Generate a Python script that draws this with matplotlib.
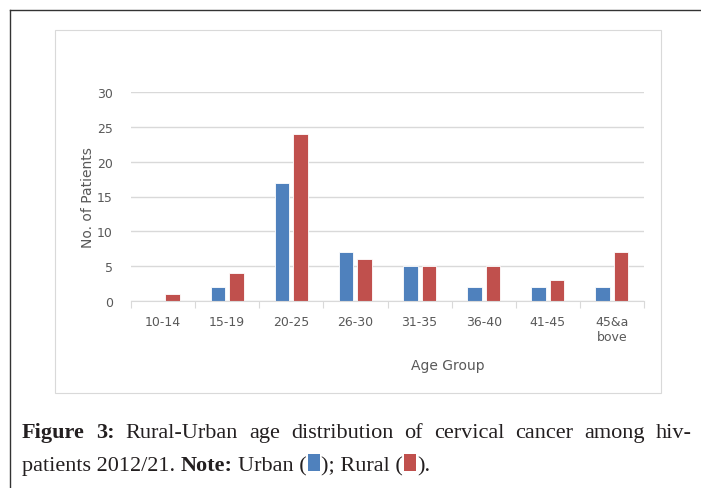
import numpy as np
import matplotlib.pyplot as plt
import matplotlib.patches as patches
import matplotlib.lines as lines

W, H = 701, 489

age_groups = ['10-14', '15-19', '20-25', '26-30', '31-35', '36-40', '41-45', '45&a\nbove']
urban = [0, 2, 17, 7, 5, 2, 2, 2]
rural = [1, 4, 24, 6, 5, 5, 3, 7]
y_ticks = [0, 5, 10, 15, 20, 25, 30]

BLUE = '#4f81bd'
RED = '#c0504d'
GREY_TXT = '#595959'
GRID = '#d9d9d9'

caption_1 = ['Figure', '3:', 'Rural-Urban', 'age', 'distribution', 'of', 'cervical',
             'cancer', 'among', 'hiv-']
caption_bold_1 = 2  # first two words bold


def fx(x):
    return x / W


def fy(y):
    return 1 - y / H


fig = plt.figure(figsize=(W / 100, H / 100), dpi=100)

# outer frame (only left and top visible)
fig.add_artist(lines.Line2D([fx(10), fx(10)], [fy(11), 0], transform=fig.transFigure, color='#333333', lw=1))
fig.add_artist(lines.Line2D([fx(10), 1], [fy(11), fy(11)], transform=fig.transFigure, color='#333333', lw=1))

# chart box, behind the axes
fig.add_artist(patches.Rectangle((fx(55), fy(394)), (661 - 55) / W, (394 - 31) / H,
                                 transform=fig.transFigure, fill=False, ec=GRID, lw=0.8, zorder=-1))

ax = fig.add_axes([fx(131), fy(302), (644 - 131) / W, (302 - 93) / H])
ax.set_facecolor('none')
x = np.arange(len(age_groups)) + 0.5
bw = 0.225
ax.bar(x - 0.144, urban, bw, color=BLUE, edgecolor='white', lw=0.6, zorder=2)
ax.bar(x + 0.144, rural, bw, color=RED, edgecolor='white', lw=0.6, zorder=2)

ax.set_xlim(0, len(age_groups))
ax.set_ylim(0, 30)
ax.set_yticks(y_ticks)
ax.yaxis.grid(True, color=GRID, lw=1)
ax.set_axisbelow(True)
for s in ['top', 'right', 'left']:
    ax.spines[s].set_visible(False)
ax.spines['bottom'].set_color(GRID)
ax.spines['bottom'].set_zorder(3)

ax.set_xticks(np.arange(len(age_groups) + 1))
ax.set_xticklabels([])
ax.tick_params(axis='x', which='major', length=5, color=GRID, direction='out')
ax.set_xticks(x, minor=True)
ax.set_xticklabels(age_groups, minor=True, fontsize=9, color=GREY_TXT, linespacing=1.25)
ax.tick_params(axis='x', which='minor', length=0, pad=10)
ax.tick_params(axis='y', length=0, pad=13, labelsize=9, labelcolor=GREY_TXT)

fig.text(fx(88), fy(198), 'No. of Patients', rotation=90, ha='center', va='center',
         fontsize=10, color=GREY_TXT)
fig.text(fx(448), fy(366), 'Age Group', ha='center', va='center', fontsize=10, color=GREY_TXT)

# caption
serif = 'Liberation Serif'
cap_size = 16
ink = '#231f20'
renderer = fig.canvas.get_renderer()


def text_w(s, bold=False):
    t = fig.text(0, 0, s, fontsize=cap_size, family=serif, fontweight='bold' if bold else 'normal')
    w = t.get_window_extent(renderer).width
    t.remove()
    return w


# line 1, justified between x=22 and x=692
widths = [text_w(w, i < caption_bold_1) for i, w in enumerate(caption_1)]
gap = (692 - 22 - sum(widths)) / (len(caption_1) - 1)
xpos = 22
for i, w in enumerate(caption_1):
    fig.text(fx(xpos), fy(438), w, fontsize=cap_size, family=serif, color=ink,
             fontweight='bold' if i < caption_bold_1 else 'normal', va='baseline')
    xpos += widths[i] + gap

# line 2 with coloured legend boxes
space = text_w('a a') - text_w('aa')
pieces = [('patients 2012/21.', False), (' ', False), ('Note:', True), (' ', False),
          ('Urban (', False), (BLUE, None), ('); Rural (', False), (RED, None), (').', False)]
xpos = 22
base = 471
for s, bold in pieces:
    if bold is None:
        fig.add_artist(patches.Rectangle((fx(xpos + 1), fy(base + 1)), 12 / W, 17 / H,
                                         transform=fig.transFigure, fc=s, ec='none'))
        xpos += 14
    elif s == ' ':
        xpos += space
    else:
        fig.text(fx(xpos), fy(base), s, fontsize=cap_size, family=serif, color=ink,
                 fontweight='bold' if bold else 'normal', va='baseline')
        xpos += text_w(s, bold)

fig.savefig('out.png', dpi=100)
